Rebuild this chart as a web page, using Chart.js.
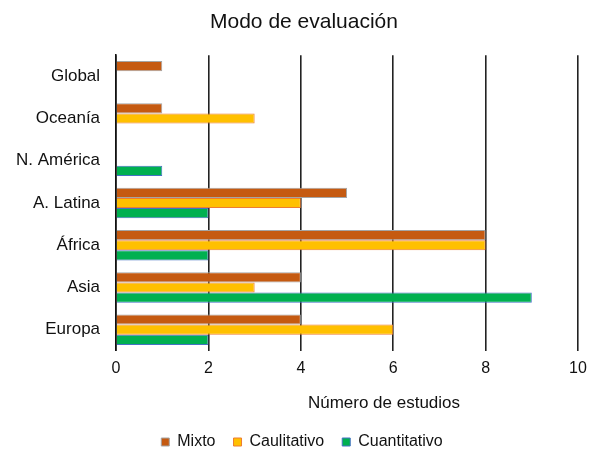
<!DOCTYPE html>
<html>
<head>
<meta charset="utf-8">
<script src="https://cdn.jsdelivr.net/npm/chart.js@4"></script>
<style>
  html, body { margin: 0; padding: 0; background: #fff; }
  #wrap { width: 590px; height: 450px; }
</style>
</head>
<body>
<div id="wrap"><canvas id="modoChart"></canvas></div>
<script>
const regiones = ['Global', 'Oceanía', 'N. América', 'A. Latina', 'África', 'Asia', 'Europa'];
const mixto = [1, 1, 0, 5, 8, 4, 4];
const cualitativo = [0, 3, 0, 4, 8, 3, 6];
const cuantitativo = [0, 0, 1, 2, 2, 9, 2];
const xTicks = [0, 2, 4, 6, 8, 10];

const fontFam = 'Arial, "Liberation Sans", sans-serif';

// axis title drawn under the tick labels, a bit right of centre
const axisTitle = {
    id: 'axisTitle',
    afterDraw(chart) {
        const ctx = chart.ctx;
        const x = chart.scales.x.getPixelForValue(5.8);
        ctx.save();
        ctx.font = '17px ' + fontFam;
        ctx.fillStyle = '#111';
        ctx.textAlign = 'center';
        ctx.textBaseline = 'middle';
        ctx.fillText('Número de estudios', x, 403);
        ctx.restore();
    }
};

// nudge title and legend a little to the right
const shiftBoxes = {
    id: 'shiftBoxes',
    afterLayout(chart) {
        if (chart.titleBlock) {
            chart.titleBlock.left += 15;
            chart.titleBlock.right += 15;
        }
        if (chart.legend) {
            chart.legend.left += 13;
            chart.legend.right += 13;
        }
    }
};

new Chart(document.getElementById('modoChart'), {
    type: 'bar',
    data: {
        labels: regiones,
        datasets: [
            {
                label: 'Mixto',
                data: mixto,
                backgroundColor: '#C55A11',
                borderColor: '#A5A5A5',
                borderWidth: 1
            },
            {
                label: 'Caulitativo',
                data: cualitativo,
                backgroundColor: '#FFC000',
                borderColor: '#ED7D31',
                borderWidth: 1
            },
            {
                label: 'Cuantitativo',
                data: cuantitativo,
                backgroundColor: '#00B050',
                borderColor: '#4472C4',
                borderWidth: 1
            }
        ]
    },
    options: {
        indexAxis: 'y',
        responsive: true,
        maintainAspectRatio: false,
        animation: false,
        layout: { padding: { left: 0, right: 12, top: 0, bottom: -10 } },
        datasets: {
            bar: { categoryPercentage: 0.72, barPercentage: 1.0, borderSkipped: 'start' }
        },
        plugins: {
            title: {
                display: true,
                text: 'Modo de evaluación',
                color: '#111',
                font: { family: fontFam, size: 21, weight: 'normal' },
                padding: { top: 10, bottom: 20 }
            },
            legend: {
                position: 'bottom',
                labels: {
                    boxWidth: 8,
                    boxHeight: 8,
                    padding: 18,
                    color: '#111',
                    font: { family: fontFam, size: 16 }
                }
            },
            tooltip: { enabled: false }
        },
        scales: {
            x: {
                min: 0,
                max: 10,
                afterBuildTicks(scale) {
                    scale.ticks = xTicks.map(v => ({ value: v }));
                },
                afterFit(scale) {
                    scale.height += 30;
                    scale.paddingRight = 0;
                },
                ticks: {
                    color: '#111',
                    padding: 8,
                    font: { family: fontFam, size: 16 }
                },
                grid: { color: '#222', lineWidth: 1.6, drawTicks: false },
                border: { display: false }
            },
            y: {
                ticks: {
                    color: '#111',
                    padding: 16,
                    font: { family: fontFam, size: 17 }
                },
                grid: { display: false, drawTicks: false },
                border: { display: true, color: '#111', width: 1.6 }
            }
        }
    },
    plugins: [axisTitle, shiftBoxes]
});
</script>
</body>
</html>
